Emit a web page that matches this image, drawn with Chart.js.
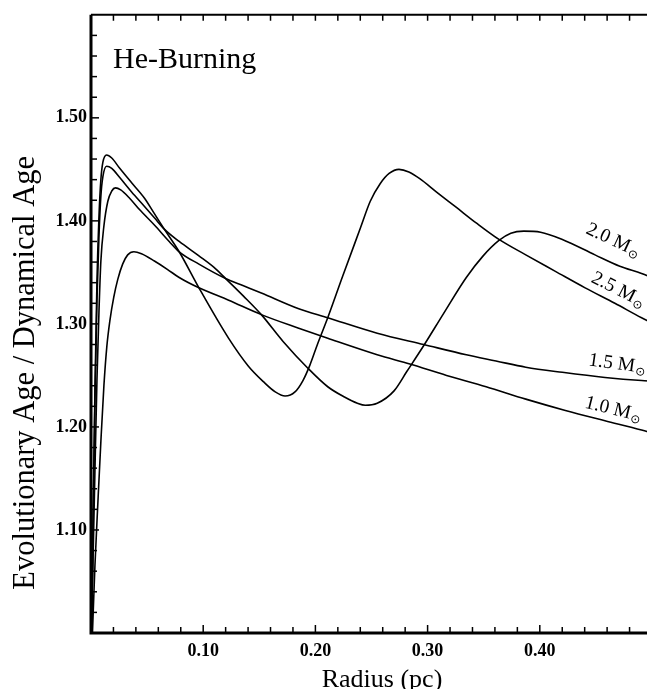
<!DOCTYPE html>
<html>
<head>
<meta charset="utf-8">
<script src="https://cdn.jsdelivr.net/npm/chart.js@4.4.1/dist/chart.umd.min.js"></script>
<style>
  html, body { margin: 0; padding: 0; background: #fff; overflow: hidden; }
  canvas { display: block; }
</style>
</head>
<body>
<canvas id="heburning" width="660" height="689"></canvas>
<script>
// labelled ticks
const xTicks = [0.10, 0.20, 0.30, 0.40];
const yTicks = [1.10, 1.20, 1.30, 1.40, 1.50];

const masses = ["1.0", "1.5", "2.0", "2.5"];

// radius (pc) / evolutionary age over dynamical age
const radius10 = [0.0013, 0.0035, 0.0062, 0.0088, 0.0115, 0.0141, 0.0168, 0.0203, 0.0238, 0.0282, 0.0327, 0.0382, 0.0450, 0.0565, 0.0680, 0.0786, 0.0962, 0.1227, 0.1518, 0.1845, 0.2110, 0.2551, 0.2842, 0.3169, 0.3522, 0.3875, 0.4228, 0.4581, 0.4907, 0.5];
const ratio10  = [1.000, 1.065, 1.128, 1.186, 1.240, 1.278, 1.303, 1.326, 1.343, 1.358, 1.367, 1.370, 1.368, 1.361, 1.353, 1.345, 1.335, 1.323, 1.309, 1.296, 1.286, 1.270, 1.261, 1.250, 1.239, 1.227, 1.216, 1.206, 1.197, 1.194];

const radius15 = [0.0005, 0.0018, 0.0035, 0.0053, 0.0071, 0.0088, 0.0115, 0.0150, 0.0185, 0.0218, 0.0265, 0.0344, 0.0432, 0.0565, 0.0697, 0.0786, 0.0962, 0.1200, 0.1359, 0.1518, 0.1845, 0.2110, 0.2551, 0.2966, 0.3345, 0.3610, 0.3875, 0.4201, 0.4581, 0.4907, 0.5];
const ratio15  = [1.000, 1.070, 1.157, 1.245, 1.312, 1.361, 1.395, 1.419, 1.429, 1.432, 1.430, 1.422, 1.411, 1.396, 1.380, 1.370, 1.358, 1.344, 1.337, 1.330, 1.315, 1.306, 1.291, 1.280, 1.270, 1.264, 1.258, 1.253, 1.248, 1.245, 1.2445];

const radius20 = [0.0005, 0.0018, 0.0035, 0.0053, 0.0071, 0.0088, 0.0106, 0.0139, 0.0185, 0.0256, 0.0362, 0.0477, 0.0565, 0.0653, 0.0786, 0.0962, 0.1094, 0.1200, 0.1359, 0.1518, 0.1712, 0.1933, 0.2110, 0.2259, 0.2374, 0.2445, 0.2551, 0.2701, 0.2816, 0.2966, 0.3142, 0.3345, 0.3495, 0.3636, 0.3742, 0.3857, 0.4007, 0.4201, 0.4492, 0.4713, 0.4907, 0.5];
const ratio20  = [1.000, 1.099, 1.225, 1.322, 1.385, 1.424, 1.443, 1.453, 1.451, 1.442, 1.428, 1.414, 1.403, 1.392, 1.380, 1.366, 1.355, 1.344, 1.327, 1.309, 1.283, 1.257, 1.239, 1.229, 1.223, 1.221, 1.223, 1.235, 1.254, 1.279, 1.310, 1.345, 1.366, 1.381, 1.388, 1.390, 1.389, 1.382, 1.367, 1.356, 1.349, 1.345];

const radius25 = [0.0005, 0.0018, 0.0035, 0.0053, 0.0071, 0.0088, 0.0106, 0.0139, 0.0185, 0.0256, 0.0362, 0.0477, 0.0565, 0.0653, 0.0786, 0.0962, 0.1227, 0.1403, 0.1536, 0.1642, 0.1730, 0.1818, 0.1889, 0.1951, 0.2021, 0.2110, 0.2242, 0.2401, 0.2489, 0.2577, 0.2657, 0.2745, 0.2833, 0.2930, 0.3080, 0.3257, 0.3433, 0.3636, 0.3875, 0.4139, 0.4404, 0.4669, 0.4907, 0.5];
const ratio25  = [1.000, 1.109, 1.235, 1.341, 1.404, 1.440, 1.457, 1.464, 1.461, 1.451, 1.437, 1.422, 1.407, 1.392, 1.370, 1.335, 1.286, 1.259, 1.244, 1.234, 1.230, 1.234, 1.245, 1.260, 1.281, 1.306, 1.346, 1.393, 1.419, 1.436, 1.446, 1.450, 1.4475, 1.441, 1.428, 1.413, 1.398, 1.382, 1.367, 1.351, 1.335, 1.320, 1.306, 1.301];

const toPoints = (xs, ys) => xs.map((x, i) => ({ x: x, y: ys[i] }));

const series = [
    { mass: masses[0], data: toPoints(radius10, ratio10) },
    { mass: masses[1], data: toPoints(radius15, ratio15) },
    { mass: masses[2], data: toPoints(radius20, ratio20) },
    { mass: masses[3], data: toPoints(radius25, ratio25) },
];

const serif = "'Liberation Serif', 'Times New Roman', serif";
const near = (a, b) => Math.abs(a - b) < 1e-6;

// frame, inward ticks, titles and curve labels
const decorations = {
    id: "decorations",
    afterDatasetsDraw(chart, args, opts) {
        const ctx = chart.ctx;
        const area = chart.chartArea;
        const xs = chart.scales.x;
        const ys = chart.scales.y;

        ctx.save();
        ctx.strokeStyle = "#000";
        ctx.lineCap = "butt";

        // ticks
        ctx.lineWidth = 1.5;
        xs.ticks.forEach((t) => {
            const px = xs.getPixelForValue(t.value);
            if (px <= area.left + 1) return;
            const len = xTicks.some((v) => near(v, t.value)) ? 8 : 6;
            ctx.beginPath();
            ctx.moveTo(px, area.bottom);
            ctx.lineTo(px, area.bottom - len);
            ctx.moveTo(px, area.top);
            ctx.lineTo(px, area.top + 6);
            ctx.stroke();
        });
        ys.ticks.forEach((t) => {
            const py = ys.getPixelForValue(t.value);
            if (py >= area.bottom - 1 || py <= area.top + 1) return;
            const len = yTicks.some((v) => near(v, t.value)) ? 8 : 6;
            ctx.beginPath();
            ctx.moveTo(area.left, py);
            ctx.lineTo(area.left + len, py);
            ctx.stroke();
        });

        // frame
        ctx.lineWidth = 3;
        ctx.beginPath();
        ctx.moveTo(area.left, area.top);
        ctx.lineTo(area.left, area.bottom);
        ctx.lineTo(area.right, area.bottom);
        ctx.stroke();
        ctx.lineWidth = 2;
        ctx.beginPath();
        ctx.moveTo(area.left, area.top);
        ctx.lineTo(area.right, area.top);
        ctx.stroke();

        ctx.fillStyle = "#000";

        // panel title
        ctx.font = "30px " + serif;
        ctx.textAlign = "left";
        ctx.textBaseline = "alphabetic";
        ctx.fillText(opts.panel, area.left + 22, area.top + 53);

        // axis titles
        ctx.font = "26px " + serif;
        ctx.textAlign = "center";
        ctx.fillText(opts.xTitle, area.left + 291, chart.height - 2);

        ctx.save();
        ctx.translate(34, area.top + 358);
        ctx.rotate(-Math.PI / 2);
        ctx.font = "30.5px " + serif;
        ctx.fillText(opts.yTitle, 0, 0);
        ctx.restore();

        // mass labels next to the curves
        opts.labels.forEach((lab) => {
            const px = xs.getPixelForValue(lab.x);
            const py = ys.getPixelForValue(lab.y);
            ctx.save();
            ctx.translate(px, py);
            ctx.rotate(lab.angle * Math.PI / 180);
            const main = lab.text + " M";
            ctx.font = "19.5px " + serif;
            const w1 = ctx.measureText(main).width;
            ctx.font = "12px 'DejaVu Sans', sans-serif";
            const w2 = ctx.measureText("\u2299").width;
            const x0 = -(w1 + w2 + 1) / 2;
            ctx.textAlign = "left";
            ctx.textBaseline = "middle";
            ctx.font = "19.5px " + serif;
            ctx.fillText(main, x0, 0);
            ctx.font = "12px 'DejaVu Sans', sans-serif";
            ctx.fillText("\u2299", x0 + w1 + 1, 5);
            ctx.restore();
        });

        ctx.restore();
    },
};

const ctx = document.getElementById("heburning").getContext("2d");

const chart = new Chart(ctx, {
    type: "line",
    data: {
        datasets: series.map((s) => ({
            label: s.mass + " Msun",
            data: s.data,
            borderColor: "#000",
            borderWidth: 1.6,
            pointRadius: 0,
            fill: false,
            cubicInterpolationMode: "monotone",
        })),
    },
    options: {
        responsive: false,
        animation: false,
        devicePixelRatio: 1,
        layout: { padding: { top: 14, right: 2.5, left: 0, bottom: 0 } },
        plugins: {
            legend: { display: false },
            tooltip: { enabled: false },
            decorations: {
                panel: "He-Burning",
                xTitle: "Radius (pc)",
                yTitle: "Evolutionary Age / Dynamical Age",
                labels: [
                    { text: masses[3], x: 0.4700, y: 1.333, angle: 27 },
                    { text: masses[2], x: 0.4655, y: 1.381, angle: 25 },
                    { text: masses[1], x: 0.4690, y: 1.261, angle: 8 },
                    { text: masses[0], x: 0.4655, y: 1.217, angle: 14 },
                ],
            },
        },
        scales: {
            x: {
                type: "linear",
                min: 0,
                max: 0.5,
                afterFit: (s) => { s.height = 56; },
                grid: { drawOnChartArea: false, drawTicks: false },
                border: { display: false },
                ticks: {
                    stepSize: 0.02,
                    autoSkip: false,
                    maxRotation: 0,
                    padding: 8,
                    color: "#000",
                    font: { family: serif, size: 18, weight: "bold" },
                    callback: (v) => (xTicks.some((t) => near(t, v)) ? v.toFixed(2) : ""),
                },
            },
            y: {
                type: "linear",
                min: 1.0,
                max: 1.6,
                afterFit: (s) => { s.width = 91; },
                grid: { drawOnChartArea: false, drawTicks: false },
                border: { display: false },
                ticks: {
                    stepSize: 0.02,
                    autoSkip: false,
                    padding: 4,
                    color: "#000",
                    font: { family: serif, size: 18, weight: "bold" },
                    callback: (v) => (yTicks.some((t) => near(t, v)) ? v.toFixed(2) : ""),
                },
            },
        },
    },
    plugins: [decorations],
});
</script>
</body>
</html>
